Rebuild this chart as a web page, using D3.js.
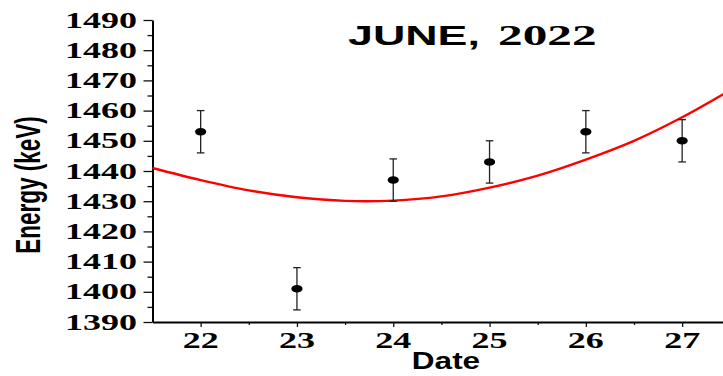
<!DOCTYPE html>
<html>
<head>
<meta charset="utf-8">
<script src="https://cdn.jsdelivr.net/npm/d3@7"></script>
<style>
  html, body { margin: 0; padding: 0; background: #fff; }
  svg { display: block; }
</style>
</head>
<body>
<svg id="chart" width="723" height="376"></svg>
<script>
// ---- data ----
const dates = [22, 23, 24, 25, 26, 27];
const energy = [1453, 1401, 1437, 1443, 1453, 1450];
const errors = [7, 7, 7, 7, 7, 7];
const fitDates = [21.5, 22, 22.5, 23, 23.5, 24, 24.5, 25, 25.5, 26, 26.5, 27, 27.5];
const fitEnergy = [1441.0, 1437.0, 1433.6, 1431.3, 1430.1, 1430.2, 1431.6, 1434.5, 1438.5, 1443.8, 1450.0, 1457.8, 1466.8];
const yTicks = [1390, 1400, 1410, 1420, 1430, 1440, 1450, 1460, 1470, 1480, 1490];
const xTicks = [22, 23, 24, 25, 26, 27];
const titleWord = "JUNE,";
const titleYear = "2022";
const xLabel = "Date";
const yLabel = "Energy (keV)";

// ---- layout ----
const svg = d3.select("#chart");
const x = d3.scaleLinear().domain([21.5, 27.5]).range([152.5, 730.3]);
const y = d3.scaleLinear().domain([1390, 1490]).range([322, 20]);
const SX = 1.5; // horizontal stretch of the original rendering
const serif = "Liberation Serif";
const sans = "Liberation Sans";

// ---- axes ----
const yMinor = d3.range(1395, 1490, 10);
svg.append("g").attr("transform", `translate(${x(21.5)},0)`)
  .call(d3.axisLeft(y).tickValues(yMinor).tickSize(5).tickFormat("").tickSizeOuter(0))
  .call(g => g.select(".domain").remove())
  .call(g => g.selectAll("line").attr("stroke", "#111").attr("stroke-width", 1.3));
svg.append("g").attr("transform", `translate(${x(21.5)},0)`)
  .call(d3.axisLeft(y).tickValues(yTicks).tickSize(9).tickFormat("").tickSizeOuter(0))
  .call(g => g.select(".domain").attr("stroke", "#000").attr("stroke-width", 2))
  .call(g => g.selectAll("line").attr("stroke", "#111").attr("stroke-width", 1.3));

const xMinor = [22.5, 23.5, 24.5, 25.5, 26.5];
svg.append("g").attr("transform", `translate(0,${y(1390)})`)
  .call(d3.axisBottom(x).tickValues(xMinor).tickSize(3).tickFormat("").tickSizeOuter(0))
  .call(g => g.select(".domain").remove())
  .call(g => g.selectAll("line").attr("stroke", "#111").attr("stroke-width", 1.3));
svg.append("g").attr("transform", `translate(0,${y(1390)})`)
  .call(d3.axisBottom(x).tickValues(xTicks).tickSize(5).tickFormat("").tickSizeOuter(0))
  .call(g => g.select(".domain").attr("stroke", "#000").attr("stroke-width", 2))
  .call(g => g.selectAll("line").attr("stroke", "#111").attr("stroke-width", 1.3));

// ---- tick labels ----
svg.append("g").selectAll("text").data(yTicks).join("text")
  .attr("transform", d => `translate(137,${y(d) + 7.5}) scale(${SX},1)`)
  .attr("text-anchor", "end")
  .style("font-family", serif).style("font-weight", "bold").style("font-size", "24px")
  .attr("fill", "#000")
  .text(d => d);

svg.append("g").selectAll("text").data(xTicks).join("text")
  .attr("transform", d => `translate(${x(d)},347.5) scale(${SX},1)`)
  .attr("text-anchor", "middle")
  .style("font-family", serif).style("font-weight", "bold").style("font-size", "24px")
  .attr("fill", "#000")
  .text(d => d);

// ---- axis titles ----
svg.append("text")
  .attr("transform", `translate(446,369.3) scale(1.37,1)`)
  .attr("text-anchor", "middle")
  .style("font-family", sans).style("font-weight", "bold").style("font-size", "23px")
  .text(xLabel);

svg.append("text")
  .attr("transform", `translate(40,185) scale(1.55,1) rotate(-90)`)
  .attr("text-anchor", "middle")
  .style("font-family", sans).style("font-weight", "bold").style("font-size", "22.5px")
  .text(yLabel);

// ---- title ----
svg.append("text")
  .attr("transform", `translate(348,45) scale(1.6,1)`)
  .style("font-family", sans).style("font-weight", "bold").style("font-size", "28px")
  .text(titleWord);
svg.append("text")
  .attr("transform", `translate(498,45) scale(1.67,1)`)
  .style("font-family", serif).style("font-weight", "bold").style("font-size", "29.5px")
  .text(titleYear);

// ---- fit curve ----
const fit = fitDates.map((d, i) => [d, fitEnergy[i]]);
svg.append("path")
  .datum(fit)
  .attr("fill", "none")
  .attr("stroke", "#ff0000")
  .attr("stroke-width", 2.4)
  .attr("d", d3.line().x(d => x(d[0])).y(d => y(d[1])).curve(d3.curveCatmullRom));

// ---- error bars ----
const pts = dates.map((d, i) => ({ d, v: energy[i], e: errors[i] }));
const eb = svg.append("g").attr("stroke", "#222").attr("stroke-width", 1.3);
eb.selectAll("line.v").data(pts).join("line").attr("class", "v")
  .attr("x1", p => x(p.d)).attr("x2", p => x(p.d))
  .attr("y1", p => y(p.v + p.e)).attr("y2", p => y(p.v - p.e));
eb.selectAll("line.t").data(pts).join("line").attr("class", "t")
  .attr("x1", p => x(p.d) - 3.8).attr("x2", p => x(p.d) + 3.8)
  .attr("y1", p => y(p.v + p.e)).attr("y2", p => y(p.v + p.e));
eb.selectAll("line.b").data(pts).join("line").attr("class", "b")
  .attr("x1", p => x(p.d) - 3.8).attr("x2", p => x(p.d) + 3.8)
  .attr("y1", p => y(p.v - p.e)).attr("y2", p => y(p.v - p.e));

// ---- points ----
svg.append("g").selectAll("ellipse").data(pts).join("ellipse")
  .attr("cx", p => x(p.d)).attr("cy", p => y(p.v))
  .attr("rx", 5.6).attr("ry", 3.8)
  .attr("fill", "#000");
</script>
</body>
</html>
